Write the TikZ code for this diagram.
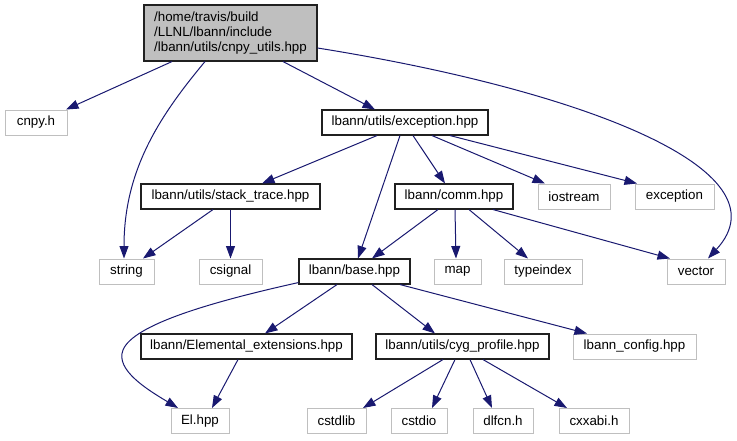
\documentclass[tikz,border=0pt]{standalone}
\usepackage{fontspec}
\setmainfont{Liberation Sans}
\usetikzlibrary{arrows.meta}
\definecolor{edgeblue}{HTML}{191970}
\definecolor{greyline}{HTML}{BFBFBF}
\definecolor{docline}{HTML}{202020}
\begin{document}
\begin{tikzpicture}[x=1pt,y=-1pt,
  nodefont/.style={font=\fontsize{13.33}{15}\selectfont},
  docbox/.style={nodefont, draw=docline, line width=1.1pt, inner sep=0pt, minimum height=25pt},
  extbox/.style={nodefont, draw=greyline, line width=1pt, inner sep=0pt, minimum height=25pt},
  dep/.style={draw=edgeblue, line width=1pt, -{Triangle[length=12.5pt,width=9pt]}}
]
\useasboundingbox (0,0) rectangle (737,440);

% rank 0
\node[docbox, fill=greyline, minimum width=173pt, minimum height=56pt, align=left] (root) at (230.5,33)
  {/home/travis/build\\/LLNL/lbann/include\\/lbann/utils/cnpy\_utils.hpp};
% rank 1
\node[extbox, minimum width=62pt] (cnpy) at (36,122.5) {cnpy.h};
\node[docbox, minimum width=166pt] (exhpp) at (405,122.5) {lbann/utils/exception.hpp};
% rank 2
\node[docbox, minimum width=179pt] (stack) at (230.5,196.5) {lbann/utils/stack\_trace.hpp};
\node[docbox, minimum width=118pt] (comm) at (454,196.5) {lbann/comm.hpp};
\node[extbox, minimum width=72pt] (iostream) at (574,196.5) {iostream};
\node[extbox, minimum width=79pt] (exception) at (674.5,196.5) {exception};
% rank 3
\node[extbox, minimum width=55pt] (string) at (126.5,271.5) {string};
\node[extbox, minimum width=63pt] (csignal) at (230.5,271.5) {csignal};
\node[docbox, minimum width=111pt] (base) at (354.5,271.5) {lbann/base.hpp};
\node[extbox, minimum width=47pt] (map) at (457.5,271.5) {map};
\node[extbox, minimum width=78pt] (typeindex) at (543,271.5) {typeindex};
\node[extbox, minimum width=58pt] (vector) at (696,271.5) {vector};
% rank 4
\node[docbox, minimum width=211pt] (elext) at (246.5,346.5) {lbann/Elemental\_extensions.hpp};
\node[docbox, minimum width=173pt] (cyg) at (462.5,346.5) {lbann/utils/cyg\_profile.hpp};
\node[extbox, minimum width=123pt] (config) at (634.5,346.5) {lbann\_config.hpp};
% rank 5
\node[extbox, minimum width=58pt] (El) at (200,421) {El.hpp};
\node[extbox, minimum width=59pt] (cstdlib) at (336.5,421) {cstdlib};
\node[extbox, minimum width=56pt] (cstdio) at (419,421) {cstdio};
\node[extbox, minimum width=60pt] (dlfcn) at (503,421) {dlfcn.h};
\node[extbox, minimum width=70pt] (cxxabi) at (594,421) {cxxabi.h};

\coordinate (elbend) at (123,350);

% edges from root
\draw[dep] ([xshift=-58.5pt]root.south) -- ([xshift=30pt]cnpy.north);
\draw[dep] ([xshift=-25.5pt]root.south) .. controls +(-45,54) and +(0,-89) .. ([xshift=-2.5pt]string.north);
\draw[dep] ([xshift=52.5pt]root.south) -- ([xshift=-30pt]exhpp.north);
\draw[dep] ([yshift=-15pt]root.east) .. controls +(263,42) and +(82,-89) .. ([xshift=12pt]vector.north);
% edges from exception.hpp
\draw[dep] ([xshift=-28pt]exhpp.south) -- ([xshift=31.5pt]stack.north);
\draw[dep] ([xshift=-5pt]exhpp.south) -- ([xshift=3.5pt]base.north);
\draw[dep] ([xshift=8pt]exhpp.south) -- ([xshift=-9pt]comm.north);
\draw[dep] ([xshift=27pt]exhpp.south) -- ([xshift=-29pt]iostream.north);
\draw[dep] ([xshift=45pt]exhpp.south) -- ([xshift=-37.5pt]exception.north);
% edges from stack_trace
\draw[dep] ([xshift=-17.5pt]stack.south) -- ([xshift=16.5pt]string.north);
\draw[dep] (stack.south) -- (csignal.north);
% edges from comm
\draw[dep] ([xshift=-16pt]comm.south) -- ([xshift=17.5pt]base.north);
\draw[dep] ([xshift=1pt]comm.south) -- ([xshift=-1.5pt]map.north);
\draw[dep] ([xshift=15pt]comm.south) -- ([xshift=-15pt]typeindex.north);
\draw[dep] ([xshift=39pt]comm.south) -- ([xshift=-26pt]vector.north);
% edges from base
\draw[dep] ([yshift=2pt]base.south west) .. controls +(-90,20) and +(10,-25) .. (elbend)
  .. controls +(-8,20) and +(-30,-18) .. ([xshift=-22pt]El.north);
\draw[dep] ([xshift=-17.5pt]base.south) -- ([xshift=18.5pt]elext.north);
\draw[dep] ([xshift=17.5pt]base.south) -- ([xshift=-27.5pt]cyg.north);
\draw[dep] ([xshift=45.5pt]base.south) -- ([xshift=-47.5pt]config.north);
% edge from Elemental_extensions
\draw[dep] ([xshift=-8.5pt]elext.south) -- ([xshift=12pt]El.north);
% edges from cyg_profile
\draw[dep] ([xshift=-19.5pt]cyg.south) -- ([xshift=26.5pt]cstdlib.north);
\draw[dep] ([xshift=-7.5pt]cyg.south) -- ([xshift=13pt]cstdio.north);
\draw[dep] ([xshift=7.5pt]cyg.south) -- ([xshift=-11pt]dlfcn.north);
\draw[dep] ([xshift=20.5pt]cyg.south) -- ([xshift=-27pt]cxxabi.north);
\end{tikzpicture}
\end{document}
